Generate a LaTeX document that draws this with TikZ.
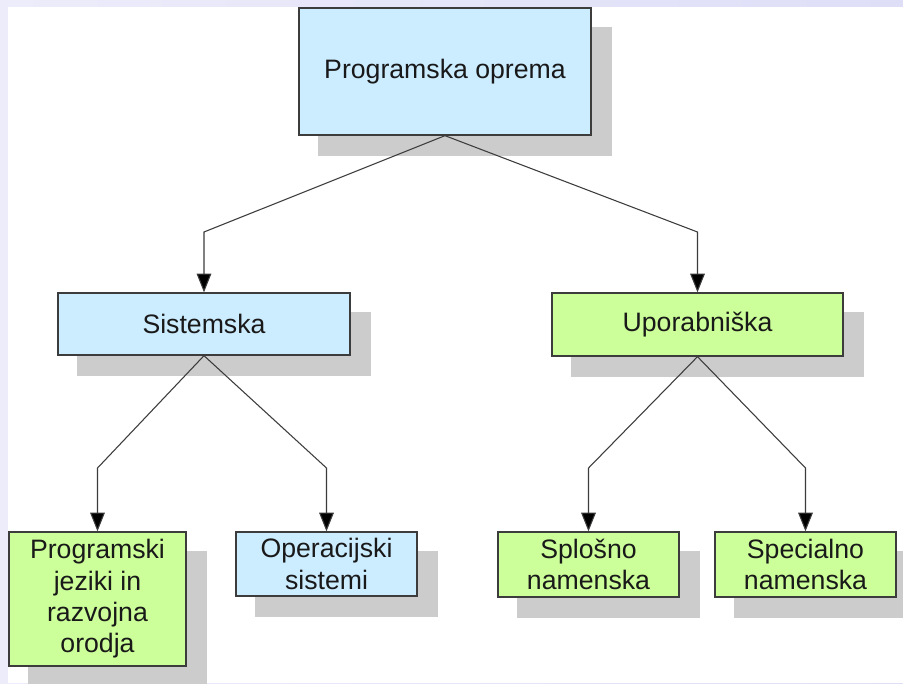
\documentclass[tikz,border=0pt]{standalone}
\usepackage{fontspec}
\setmainfont{Liberation Sans}
\usetikzlibrary{arrows.meta,backgrounds}
\definecolor{bluefill}{RGB}{204,236,255}
\definecolor{greenfill}{RGB}{204,255,153}
\definecolor{shadowgray}{RGB}{204,204,204}
\definecolor{edgegray}{RGB}{60,60,60}
\definecolor{lavender}{RGB}{222,222,247}
\definecolor{lavenderlight}{RGB}{236,236,250}
\begin{document}
\begin{tikzpicture}[x=0.75pt,y=-0.75pt,
  box/.style={draw=edgegray,line width=1pt,rectangle,inner sep=2pt,align=center,
    font=\fontsize{20}{23.5}\selectfont,text=black!90},
  bluebox/.style={box,fill=bluefill},
  greenbox/.style={box,fill=greenfill},
  sz/.style 2 args={minimum width=#1*0.75pt,minimum height=#2*0.75pt},
  conn/.style={draw=edgegray,line width=0.8pt,-{Triangle[length=14pt,width=11pt,fill=black]}}]
\useasboundingbox (0,0) rectangle (903,683);

\node[bluebox,sz={292}{127}] (top) at (445,71.5) {Programska oprema};
\node[bluebox,sz={292}{62}] (sist) at (204,324) {Sistemska};
\node[greenbox,sz={291}{63}] (upor) at (697.5,324.5) {Uporabniška};
\node[greenbox,sz={177}{134}] (prog) at (97.5,599) {Programski\\jeziki in\\razvojna\\orodja};
\node[bluebox,sz={181}{64}] (oper) at (326.5,564) {Operacijski\\sistemi};
\node[greenbox,sz={181}{65}] (splo) at (588.5,564.5) {Splošno\\namenska};
\node[greenbox,sz={181}{65}] (spec) at (805.5,564.5) {Specialno\\namenska};

\begin{scope}[on background layer]
\shade[left color=lavenderlight,right color=lavender] (0,0) rectangle (903,683);
\fill[white] (8,7) rectangle (903,683);
\foreach \n in {top,sist,upor,prog,oper,splo,spec}{
  \fill[shadowgray] ([shift={(20,20)}]\n.south west) rectangle ([shift={(20,20)}]\n.north east);
}
\end{scope}

\coordinate (e1) at (sist.north |- 0,232);
\coordinate (e2) at (upor.north |- 0,232);
\coordinate (e3) at (prog.north |- 0,468);
\coordinate (e4) at (oper.north |- 0,468);
\coordinate (e5) at (splo.north |- 0,468);
\coordinate (e6) at (spec.north |- 0,468);

\draw[conn] (top.south) -- (e1) -- (sist.north);
\draw[conn] (top.south) -- (e2) -- (upor.north);
\draw[conn] (sist.south) -- (e3) -- (prog.north);
\draw[conn] (sist.south) -- (e4) -- (oper.north);
\draw[conn] (upor.south) -- (e5) -- (splo.north);
\draw[conn] (upor.south) -- (e6) -- (spec.north);
\end{tikzpicture}
\end{document}
